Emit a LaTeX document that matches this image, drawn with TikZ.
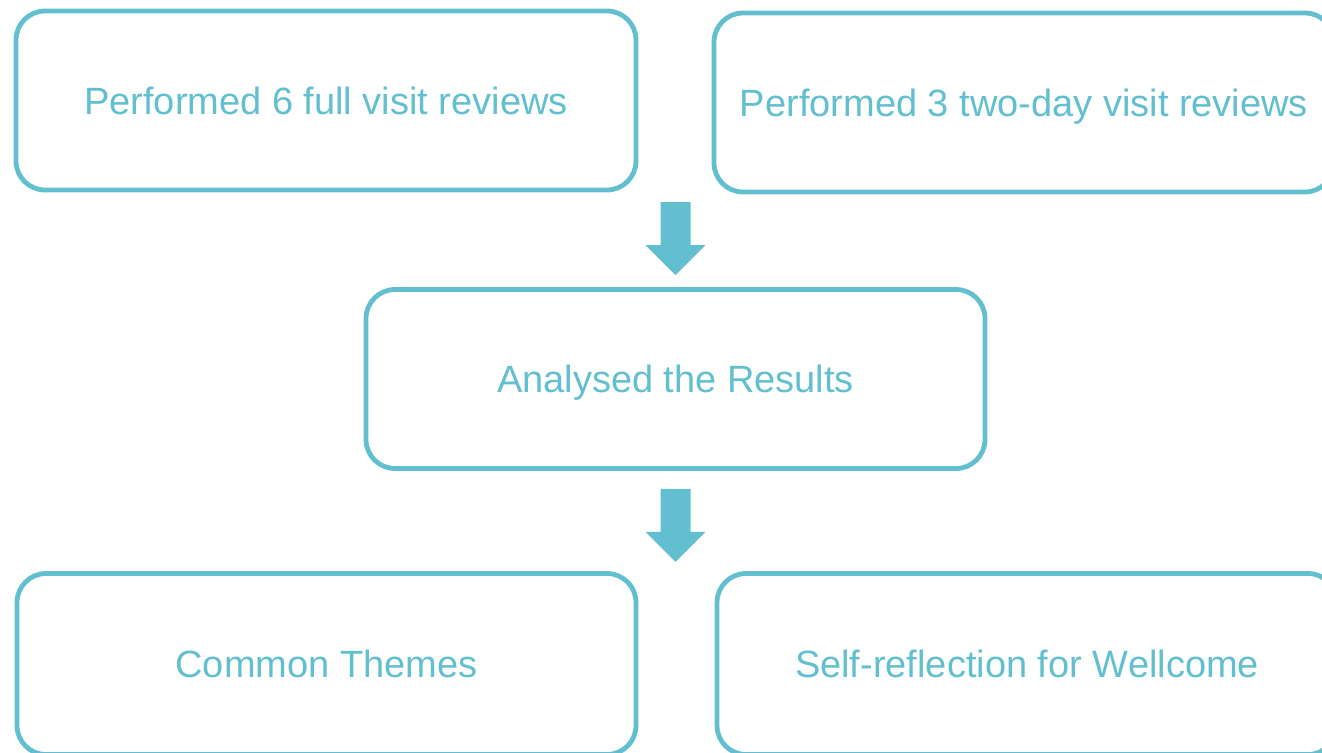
\documentclass[tikz,border=0pt]{standalone}
\usepackage{fontspec}
\setmainfont{Liberation Sans}
\usetikzlibrary{calc}
\begin{document}
\definecolor{teal}{RGB}{98,191,207}
\begin{tikzpicture}[x=1pt,y=-1pt,
  flowbox/.style={draw=teal, line width=4.8pt, rounded corners=29pt, fill=white,
    text=teal, font=\fontsize{38}{44}\selectfont, inner sep=0pt,
    text height=27pt, text depth=0pt,
    minimum width=620pt, minimum height=179pt},
  blockarrow/.style={fill=teal, draw=none},
  pics/downarrow/.style={code={
    \fill[blockarrow] (-15,0) -- (15,0) -- (15,43) -- (30,43) -- (0,73)
      -- (-30,43) -- (-15,43) -- cycle;}}]
\useasboundingbox (0,0) rectangle (1322,752);
\clip (0,0) rectangle (1322,752);
% the five stages
\node[flowbox] (full)     at (326,100.5)  {Performed 6 full visit reviews};
\node[flowbox] (twoday)   at (1024,102.5) {Performed 3 two-day visit reviews};
\node[flowbox, minimum width=619pt] (analysed) at (675.5,379) {Analysed the Results};
\node[flowbox, minimum width=619pt, minimum height=181pt] (themes) at (326.5,664) {Common Themes};
\node[flowbox, minimum height=181pt] (selfref) at (1027,664) {Self-reflection for Wellcome};
% block arrows between the stages
\coordinate (gap1) at ($(analysed.north)+(0,-85)$);
\coordinate (gap2) at ($(analysed.south)+(0,18)$);
\pic at (gap1) {downarrow};
\pic at (gap2) {downarrow};
\end{tikzpicture}
\end{document}
